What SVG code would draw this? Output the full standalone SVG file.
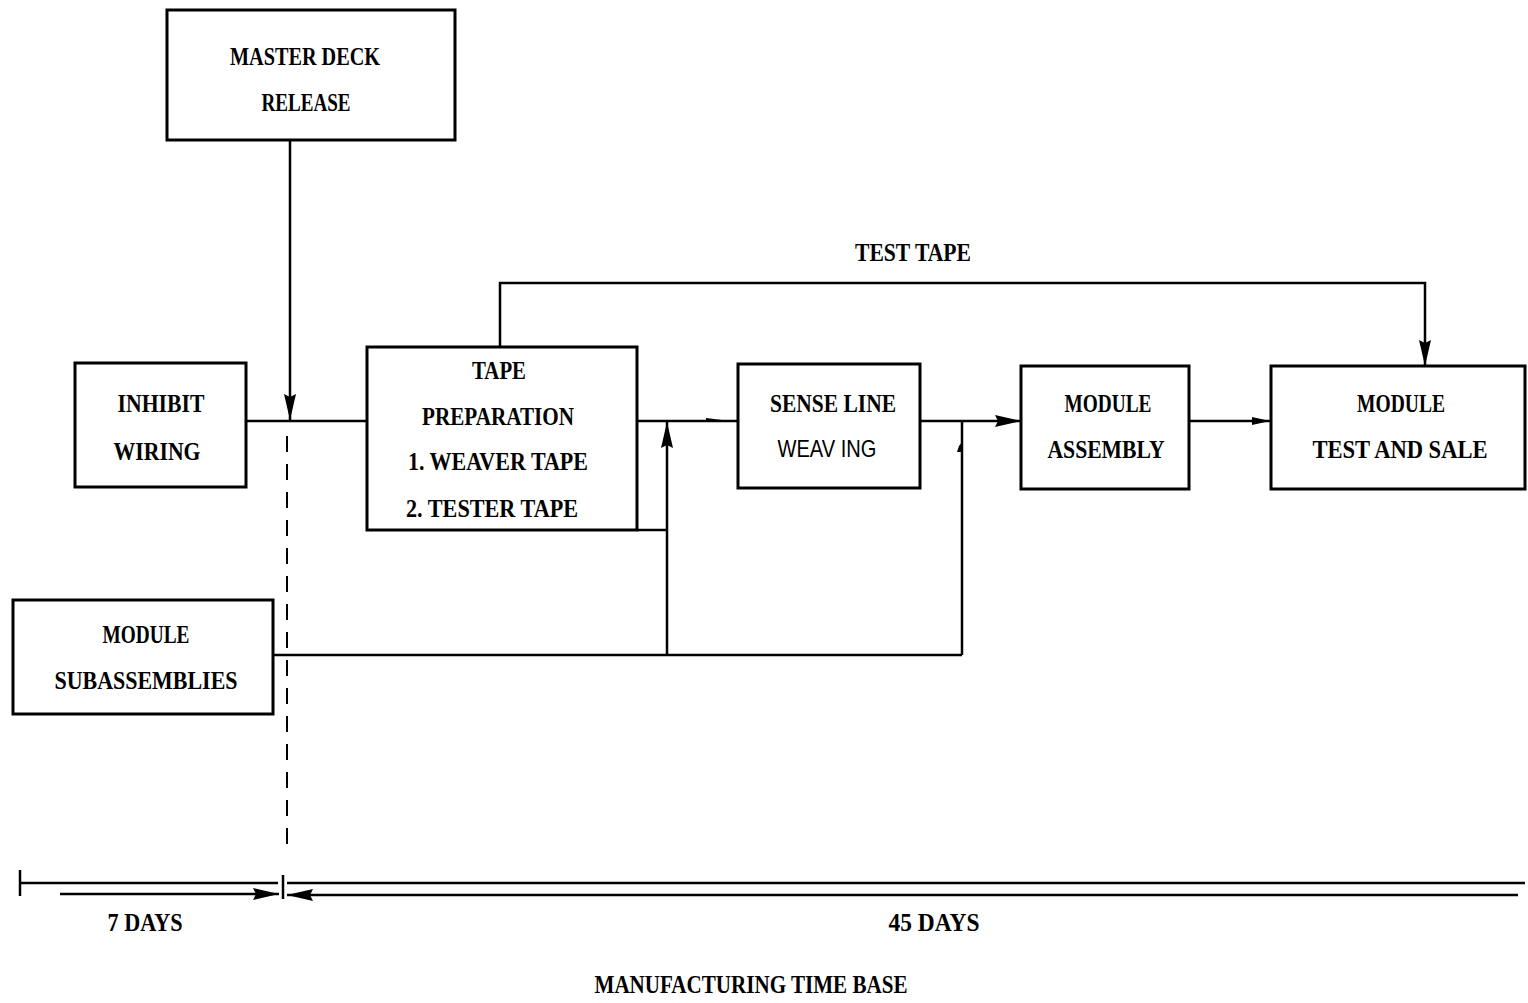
<svg xmlns="http://www.w3.org/2000/svg" width="1528" height="1003" viewBox="0 0 1528 1003">
  <style>
    .box { fill: #fff; stroke: #000; stroke-width: 3; }
    .ln { fill: none; stroke: #000; stroke-width: 2.5; }
    .lbl { font-family: "Liberation Serif", "Times New Roman", serif; font-weight: bold; font-size: 26px; fill: #000; text-anchor: middle; }
    .tw { font-family: "Liberation Sans", Arial, sans-serif; font-weight: normal; font-size: 24px; fill: #000; text-anchor: middle; }
    .dash { fill: none; stroke: #000; stroke-width: 2; stroke-dasharray: 16 12; }
  </style>
  <defs>
    <!-- solid arrowheads -->
    <marker id="ah" viewBox="0 0 26 12" refX="26" refY="6" markerWidth="26" markerHeight="12" markerUnits="userSpaceOnUse" orient="auto">
      <path d="M0,0 L26,6 L0,12 L3,6 Z" fill="#000"/>
    </marker>
    <marker id="ahs" viewBox="0 0 18 9" refX="18" refY="4.5" markerWidth="18" markerHeight="9" markerUnits="userSpaceOnUse" orient="auto">
      <path d="M0,0.5 L18,4.5 L0,8.5 Z" fill="#000"/>
    </marker>
  </defs>

  <rect width="1528" height="1003" fill="#fff"/>

  <!-- connectors -->
  <g id="connectors">
    <!-- master deck release down to the inhibit line -->
    <path class="ln" d="M290,140 V420" marker-end="url(#ah)"/>
    <!-- inhibit wiring to tape preparation -->
    <path class="ln" d="M246,421 H367"/>
    <!-- tape preparation to sense line weaving -->
    <path class="ln" d="M637,421 H738"/>
    <path d="M706,418 L722,420 L722,422 L706,421 Z" fill="#000"/>
    <!-- sense line weaving to module assembly -->
    <path class="ln" d="M920,421 H1021" marker-end="url(#ah)"/>
    <!-- module assembly to module test -->
    <path class="ln" d="M1189,421 H1270" marker-end="url(#ahs)"/>
    <!-- test tape loop -->
    <path class="ln" d="M500,346 V283 H1425 V366" marker-end="url(#ah)"/>
    <!-- tape preparation corner tie -->
    <path class="ln" d="M637,530 H667"/>
    <!-- module subassemblies feed -->
    <path class="ln" d="M273,655 H962"/>
    <path class="ln" d="M667,655 V422" marker-end="url(#ah)"/>
    <path class="ln" d="M962,655 V421"/>
    <path d="M959,446 L962,442 L963,452 L957,452 Z" fill="#000"/>
    <!-- 7-day cut-off line -->
    <path class="dash" d="M287,436 V852"/>

    <!-- time base -->
    <path class="ln" d="M20,883 H278"/>
    <path class="ln" d="M287,883 H1525"/>
    <path class="ln" d="M20,870 V896"/>
    <path class="ln" d="M283,875 V899"/>
    <path class="ln" d="M60,894 H279" marker-end="url(#ah)"/>
    <path class="ln" d="M1518,895 H287" marker-end="url(#ah)"/>
  </g>

  <!-- nodes -->
  <g id="master-deck-release">
    <rect class="box" x="167" y="10" width="288" height="130"/>
    <text class="lbl" x="305" y="65" textLength="150" lengthAdjust="spacingAndGlyphs">MASTER DECK</text>
    <text class="lbl" x="306" y="111" textLength="89" lengthAdjust="spacingAndGlyphs">RELEASE</text>
  </g>

  <g id="inhibit-wiring">
    <rect class="box" x="75" y="363" width="171" height="124"/>
    <text class="lbl" x="161" y="412" textLength="87" lengthAdjust="spacingAndGlyphs">INHIBIT</text>
    <text class="lbl" x="157" y="460" textLength="87" lengthAdjust="spacingAndGlyphs">WIRING</text>
  </g>

  <g id="tape-preparation">
    <rect class="box" x="367" y="347" width="270" height="183"/>
    <text class="lbl" x="499" y="379" textLength="54" lengthAdjust="spacingAndGlyphs">TAPE</text>
    <text class="lbl" x="498" y="425" textLength="152" lengthAdjust="spacingAndGlyphs">PREPARATION</text>
    <text class="lbl" x="498" y="470" textLength="180" lengthAdjust="spacingAndGlyphs">1.  WEAVER TAPE</text>
    <text class="lbl" x="492" y="517" textLength="172" lengthAdjust="spacingAndGlyphs">2.  TESTER TAPE</text>
  </g>

  <g id="sense-line-weaving">
    <rect class="box" x="738" y="364" width="182" height="124"/>
    <text class="lbl" x="833" y="412" textLength="126" lengthAdjust="spacingAndGlyphs">SENSE LINE</text>
    <text class="tw" x="827" y="457" textLength="99" lengthAdjust="spacingAndGlyphs">WEAV ING</text>
  </g>

  <g id="module-assembly">
    <rect class="box" x="1021" y="366" width="168" height="123"/>
    <text class="lbl" x="1108" y="412" textLength="87" lengthAdjust="spacingAndGlyphs">MODULE</text>
    <text class="lbl" x="1106" y="458" textLength="117" lengthAdjust="spacingAndGlyphs">ASSEMBLY</text>
  </g>

  <g id="module-test-and-sale">
    <rect class="box" x="1271" y="366" width="254" height="123"/>
    <text class="lbl" x="1401" y="412" textLength="88" lengthAdjust="spacingAndGlyphs">MODULE</text>
    <text class="lbl" x="1400" y="458" textLength="175" lengthAdjust="spacingAndGlyphs">TEST AND SALE</text>
  </g>

  <g id="module-subassemblies">
    <rect class="box" x="13" y="600" width="260" height="114"/>
    <text class="lbl" x="146" y="643" textLength="87" lengthAdjust="spacingAndGlyphs">MODULE</text>
    <text class="lbl" x="146" y="689" textLength="183" lengthAdjust="spacingAndGlyphs">SUBASSEMBLIES</text>
  </g>

  <!-- free labels -->
  <g id="labels">
    <text class="lbl" x="913" y="261" textLength="116" lengthAdjust="spacingAndGlyphs">TEST TAPE</text>
    <text class="lbl" x="145" y="931" font-size="22" textLength="75" lengthAdjust="spacingAndGlyphs">7 DAYS</text>
    <text class="lbl" x="934" y="931" font-size="23" textLength="91" lengthAdjust="spacingAndGlyphs">45 DAYS</text>
    <text class="lbl" x="751" y="993" font-size="22" textLength="313" lengthAdjust="spacingAndGlyphs">MANUFACTURING TIME BASE</text>
  </g>
</svg>
